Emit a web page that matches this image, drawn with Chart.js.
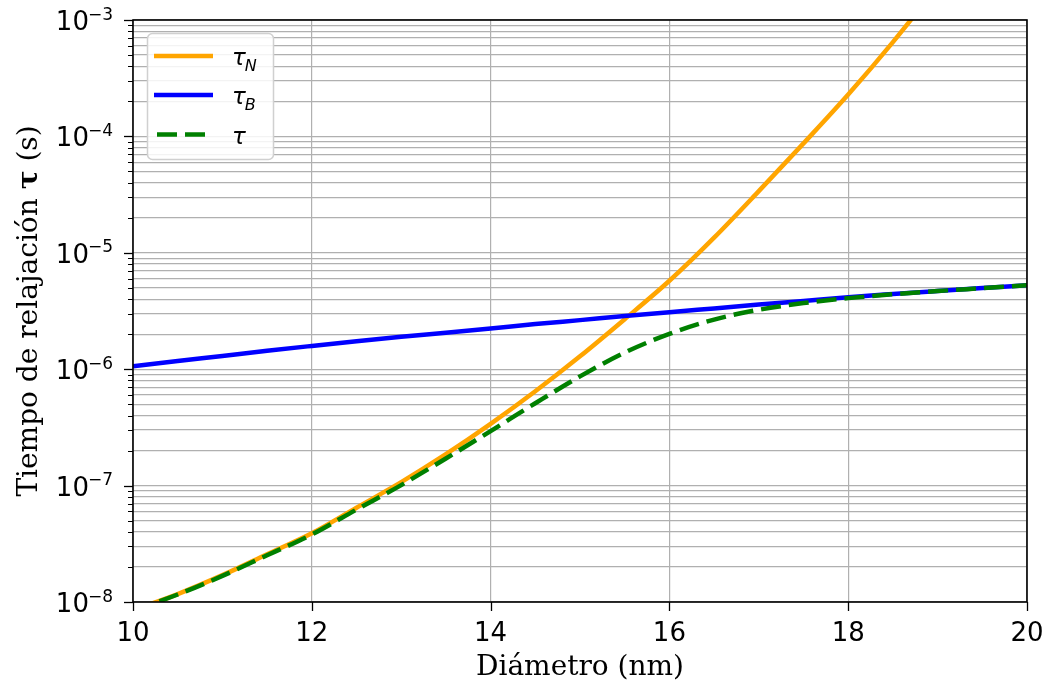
<!DOCTYPE html>
<html lang="es">
<head>
  <meta charset="UTF-8" />
  <title>Tiempo de relajación vs diámetro</title>
  <script src="https://cdn.jsdelivr.net/npm/chart.js"></script>
  <style>
    * { margin: 0; padding: 0; box-sizing: border-box; }
    body { background: #fff; }
    #caja { width: 1049px; height: 686px; }
  </style>
</head>
<body>
  <div id="caja"><canvas id="grafico"></canvas></div>

  <script>
    // Diámetro (nm)
    const diametros = [10, 10.5, 11, 11.5, 12, 12.5, 13, 13.5, 14, 14.5, 15,
                       15.5, 16, 16.5, 17, 17.5, 18, 18.5, 19, 19.5, 20];
    // Tiempo de Néel (s) - sale del gráfico por arriba
    const tauN = [8.5e-9, 1.17e-8, 1.70e-8, 2.57e-8, 3.89e-8, 6.46e-8, 1.07e-7,
                  1.86e-7, 3.39e-7, 6.46e-7, 1.29e-6, 2.69e-6, 5.75e-6, 1.35e-5,
                  3.39e-5, 8.71e-5, 2.29e-4, 6.46e-4, 1.95e-3, null, null];
    // Tiempo de Brown (s)
    const tauB = [1.06e-6, 1.175e-6, 1.30e-6, 1.44e-6, 1.585e-6, 1.74e-6, 1.90e-6,
                  2.06e-6, 2.24e-6, 2.44e-6, 2.64e-6, 2.86e-6, 3.09e-6, 3.33e-6,
                  3.59e-6, 3.86e-6, 4.16e-6, 4.43e-6, 4.70e-6, 4.98e-6, 5.27e-6];
    // Tiempo efectivo (s)
    const tauEf = [8.45e-9, 1.16e-8, 1.675e-8, 2.52e-8, 3.80e-8, 6.22e-8, 1.01e-7,
                   1.71e-7, 2.94e-7, 5.10e-7, 8.67e-7, 1.39e-6, 2.01e-6, 2.67e-6,
                   3.24e-6, 3.70e-6, 4.08e-6, 4.40e-6, 4.69e-6, 4.97e-6, 5.27e-6];

    const ticksX = [10, 12, 14, 16, 18, 20];
    const decadasY = [-8, -7, -6, -5, -4, -3];
    const leyendaBase = ['τ', 'τ', 'τ'];
    const leyendaSub = ['N', 'B', ''];
    const tituloY = ['Tiempo de relajación ', 'τ', ' (s)'];

    const puntos = (serie) => diametros.map((d, i) => ({ x: d, y: serie[i] }));

    // marco, marcas de los ejes, etiquetas 10^n, título y y leyenda
    const extras = {
      id: 'extras',
      afterDraw(chart) {
        const ctx = chart.ctx;
        const a = chart.chartArea;
        const sx = chart.scales.x;
        const sy = chart.scales.y;
        ctx.save();

        // marcas
        ctx.strokeStyle = '#000';
        ctx.lineWidth = 1.3;
        ticksX.forEach((v) => {
          const px = Math.round(sx.getPixelForValue(v)) + 0.5;
          ctx.beginPath();
          ctx.moveTo(px, a.bottom);
          ctx.lineTo(px, a.bottom + 9);
          ctx.stroke();
        });
        sy.ticks.forEach((t) => {
          const e = Math.log10(t.value);
          const mayor = Math.abs(e - Math.round(e)) < 1e-6;
          const py = Math.round(sy.getPixelForValue(t.value)) + 0.5;
          ctx.lineWidth = mayor ? 1.3 : 1;
          ctx.beginPath();
          ctx.moveTo(a.left, py);
          ctx.lineTo(a.left - (mayor ? 9 : 5), py);
          ctx.stroke();
        });

        // marco
        ctx.lineWidth = 1.6;
        ctx.strokeRect(a.left, a.top, a.right - a.left, a.bottom - a.top);

        // etiquetas del eje y
        ctx.fillStyle = '#000';
        ctx.textBaseline = 'alphabetic';
        ctx.textAlign = 'left';
        decadasY.forEach((e) => {
          const py = sy.getPixelForValue(Math.pow(10, e));
          const exp = '\u2212' + Math.abs(e);
          ctx.font = '17px "DejaVu Sans"';
          const w2 = ctx.measureText(exp).width;
          ctx.fillText(exp, 113 - w2, py - 0.5);
          ctx.font = '26px "DejaVu Sans"';
          const w1 = ctx.measureText('10').width;
          ctx.fillText('10', 113 - w2 - w1 + 1, py + 10);
        });

        // título del eje y (τ en negrita)
        const fuentes = ['28px "DejaVu Serif"', 'bold 28px "DejaVu Serif"', '28px "DejaVu Serif"'];
        let total = 0;
        const anchos = tituloY.map((txt, i) => {
          ctx.font = fuentes[i];
          const w = ctx.measureText(txt).width;
          total += w;
          return w;
        });
        ctx.translate(37, (a.top + a.bottom) / 2);
        ctx.rotate(-Math.PI / 2);
        let cx = -total / 2;
        tituloY.forEach((txt, i) => {
          ctx.font = fuentes[i];
          ctx.fillText(txt, cx, 0);
          cx += anchos[i];
        });
        ctx.setTransform(1, 0, 0, 1, 0, 0);

        // leyenda
        const lx = 147.5, ly = 33.5, lw = 126, lh = 126;
        ctx.beginPath();
        ctx.roundRect(lx, ly, lw, lh, 5);
        ctx.fillStyle = 'rgba(255,255,255,0.85)';
        ctx.fill();
        ctx.strokeStyle = '#d0d0d0';
        ctx.lineWidth = 1.5;
        ctx.stroke();

        const filas = [56, 95, 134.5];
        const orden = [2, 1, 0]; // tauN, tauB, tau
        orden.forEach((di, k) => {
          const ds = chart.data.datasets[di];
          const y = filas[k];
          ctx.beginPath();
          ctx.strokeStyle = ds.borderColor;
          ctx.lineWidth = ds.borderWidth;
          ctx.setLineDash(ds.borderDash || []);
          ctx.moveTo(ds.borderDash ? 157 : 154, y);
          ctx.lineTo(213, y);
          ctx.stroke();
          ctx.setLineDash([]);

          ctx.fillStyle = '#000';
          ctx.font = 'italic 23px "DejaVu Sans"';
          ctx.fillText(leyendaBase[k], 232, y + 9);
          const wb = ctx.measureText(leyendaBase[k]).width;
          ctx.font = 'italic 16px "DejaVu Sans"';
          ctx.fillText(leyendaSub[k], 231 + wb, y + 15);
        });

        ctx.restore();
      },
    };

    const grafico = new Chart(document.getElementById('grafico'), {
      type: 'line',
      data: {
        datasets: [
          {
            label: 'τ',
            data: puntos(tauEf),
            borderColor: '#008000',
            borderWidth: 4.5,
            borderDash: [20, 8],
          },
          {
            label: 'τB',
            data: puntos(tauB),
            borderColor: '#0000ff',
            borderWidth: 4.5,
          },
          {
            label: 'τN',
            data: puntos(tauN),
            borderColor: '#ffa500',
            borderWidth: 4.5,
          },
        ],
      },
      options: {
        responsive: true,
        maintainAspectRatio: false,
        animation: false,
        elements: {
          point: { radius: 0 },
          line: { cubicInterpolationMode: 'monotone', fill: false },
        },
        layout: { padding: { top: 20, right: 22, left: 0, bottom: 0 } },
        plugins: {
          legend: { display: false },
          tooltip: { enabled: false },
        },
        scales: {
          x: {
            type: 'linear',
            min: 10,
            max: 20,
            afterBuildTicks: (s) => { s.ticks = ticksX.map((v) => ({ value: v })); },
            afterFit: (s) => {
              s.height = 84;
              s.paddingLeft = 0;
              s.paddingRight = 0;
            },
            grid: { color: '#b0b0b0', lineWidth: 1.2, drawTicks: false },
            border: { display: false },
            ticks: {
              color: '#000',
              font: { family: 'DejaVu Sans', size: 26 },
              padding: 17,
              maxRotation: 0,
            },
            title: {
              display: true,
              text: 'Diámetro (nm)',
              color: '#000',
              font: { family: 'DejaVu Serif', size: 28 },
              padding: { top: 0, bottom: 1 },
            },
          },
          y: {
            type: 'logarithmic',
            min: 1e-8,
            max: 1e-3,
            afterBuildTicks: (s) => {
              const t = [];
              decadasY.forEach((e) => {
                for (let m = 1; m <= 9; m++) {
                  if (e === -3 && m > 1) break;
                  t.push({ value: m * Math.pow(10, e) });
                }
              });
              s.ticks = t;
            },
            afterFit: (s) => { s.width = 133; },
            grid: { color: '#b0b0b0', lineWidth: 1.2, drawTicks: false },
            border: { display: false },
            ticks: { display: false },
          },
        },
      },
      plugins: [extras],
    });
  </script>
</body>
</html>
